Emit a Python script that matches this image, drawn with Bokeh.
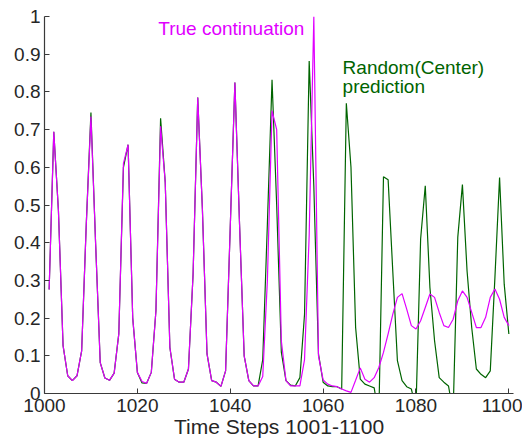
from bokeh.plotting import figure
from bokeh.models import Range1d, FixedTicker, CustomJSTickFormatter, Label
from bokeh.embed import file_html
from bokeh.resources import INLINE

# Time steps 1001-1100
steps = list(range(1001, 1101))

true_continuation = [
    0.276, 0.694, 0.485, 0.127, 0.047, 0.034, 0.047, 0.113, 0.45, 0.735,
    0.40, 0.082, 0.041, 0.035, 0.054, 0.158, 0.61, 0.66, 0.20, 0.056,
    0.032, 0.027, 0.056, 0.22, 0.709, 0.56, 0.122, 0.038, 0.03, 0.03,
    0.065, 0.317, 0.785, 0.49, 0.105, 0.034, 0.03, 0.019, 0.06, 0.44,
    0.825, 0.45, 0.10, 0.034, 0.02, 0.02, 0.045, 0.30, 0.75, 0.70,
    0.14, 0.034, 0.02, 0.02, 0.02, 0.09, 0.42, 1.0, 0.10, 0.036,
    0.025, 0.02, 0.018, 0.012, 0.007, 0.003, 0.035, 0.068, 0.038, 0.03,
    0.042, 0.069, 0.109, 0.158, 0.21, 0.255, 0.265, 0.224, 0.18, 0.171,
    0.193, 0.228, 0.264, 0.255, 0.215, 0.18, 0.175, 0.197, 0.246, 0.272,
    0.255, 0.215, 0.175, 0.175, 0.202, 0.255, 0.277, 0.25, 0.202, 0.18,
]

random_center_prediction = [
    0.276, 0.694, 0.485, 0.127, 0.047, 0.034, 0.047, 0.113, 0.45, 0.745,
    0.40, 0.082, 0.041, 0.035, 0.054, 0.158, 0.60, 0.66, 0.20, 0.056,
    0.028, 0.027, 0.056, 0.22, 0.73, 0.56, 0.122, 0.038, 0.03, 0.03,
    0.065, 0.317, 0.785, 0.49, 0.105, 0.034, 0.03, 0.019, 0.06, 0.44,
    0.825, 0.45, 0.10, 0.034, 0.02, 0.02, 0.09, 0.45, 0.832, 0.50,
    0.11, 0.034, 0.022, 0.02, 0.042, 0.21, 0.882, 0.55, 0.105, 0.03,
    0.02, 0.018, 0.018, 0.012, 0.77, 0.60, 0.175, 0.038, 0.025, 0.02,
    0.015, -0.06, 0.575, 0.567, 0.325, 0.087, 0.034, 0.018, 0.012, -0.04,
    0.41, 0.551, 0.281, 0.14, 0.042, 0.03, 0.02, -0.05, 0.414, 0.554,
    0.325, 0.175, 0.065, 0.051, 0.042, 0.06, 0.308, 0.573, 0.29, 0.158,
]

x_ticks = [1000, 1020, 1040, 1060, 1080, 1100]
y_ticks = [0, 0.1, 0.2, 0.3, 0.4, 0.5, 0.6, 0.7, 0.8, 0.9, 1.0]

MAGENTA = "#e100ff"
GREEN = "#006400"
AXIS = "#3a3a3a"

p = figure(frame_width=469, frame_height=377,
           x_range=Range1d(1000, 1101), y_range=Range1d(0, 1),
           output_backend="svg", toolbar_location=None,
           min_border_left=44, min_border_right=9, min_border_top=16, min_border_bottom=20)
p.outline_line_color = None
p.xgrid.visible = False
p.ygrid.visible = False
p.background_fill_color = "white"
p.border_fill_color = "white"

p.line(steps, random_center_prediction, line_color=GREEN, line_width=1.2)
p.line(steps, true_continuation, line_color=MAGENTA, line_width=1.2)

for ax in (p.xaxis[0], p.yaxis[0]):
    ax.axis_line_color = AXIS
    ax.axis_line_width = 1.2
    ax.major_tick_line_color = AXIS
    ax.major_tick_in = 5
    ax.major_tick_out = 0
    ax.minor_tick_line_color = None
    ax.major_label_text_font = "Liberation Sans"
    ax.major_label_text_font_size = "19px"
    ax.major_label_text_color = "#262626"

p.xaxis.ticker = FixedTicker(ticks=x_ticks)
p.yaxis.ticker = FixedTicker(ticks=y_ticks)
p.yaxis.formatter = CustomJSTickFormatter(code="return tick.toFixed(1).replace(/\\.0$/, '');")
p.xaxis.major_label_standoff = 5
p.yaxis.major_label_standoff = 4
p.xaxis.axis_label = "Time Steps 1001-1100"
p.xaxis.axis_label_text_font = "Liberation Sans"
p.xaxis.axis_label_text_font_style = "normal"
p.xaxis.axis_label_text_font_size = "21px"
p.xaxis.axis_label_text_color = "#262626"
p.xaxis.axis_label_standoff = 0

p.add_layout(Label(x=1024.5, y=0.967, text="True continuation", text_color=MAGENTA,
                   text_font="Liberation Sans", text_font_size="19px", text_baseline="middle"))
p.add_layout(Label(x=1064.2, y=0.864, text="Random(Center)", text_color=GREEN,
                   text_font="Liberation Sans", text_font_size="19px", text_baseline="middle"))
p.add_layout(Label(x=1064.2, y=0.813, text="prediction", text_color=GREEN,
                   text_font="Liberation Sans", text_font_size="19px", text_baseline="middle"))

open("out.html", "w").write(file_html(p, INLINE))
